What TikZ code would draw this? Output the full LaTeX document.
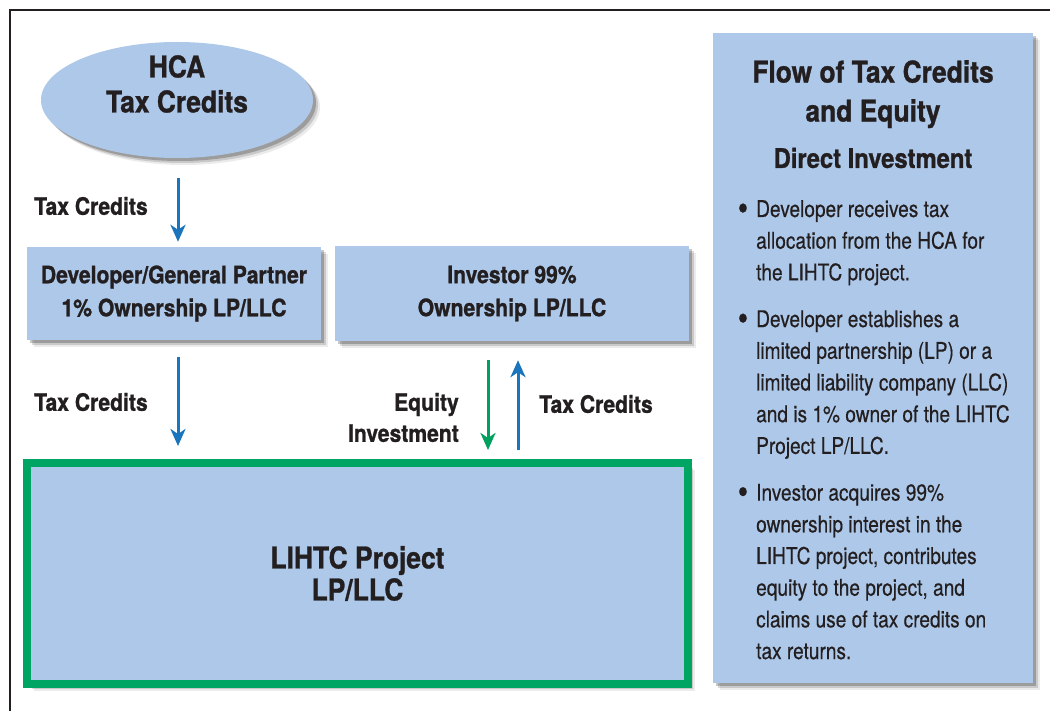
\documentclass[tikz,border=0pt]{standalone}
\usepackage{fontspec}
\setmainfont[FakeStretch=0.88,BoldFeatures={FakeBold=1.0}]{TeX Gyre Heros}
\newfontfamily\bodyfont[FakeStretch=0.83,FakeBold=0.4]{TeX Gyre Heros}
\usetikzlibrary{shadows,arrows.meta,shapes.geometric}
\definecolor{boxblue}{HTML}{AEC8E9}
\definecolor{inkdark}{HTML}{231F20}
\definecolor{arrblue}{HTML}{1B75BC}
\definecolor{arrgreen}{HTML}{00A15F}
\definecolor{framegreen}{HTML}{00A463}
\tikzset{
  softshadow/.style={
    drop shadow={shadow xshift=7pt,shadow yshift=-7pt,fill=black,opacity=0.08},
    drop shadow={shadow xshift=5pt,shadow yshift=-5pt,fill=black,opacity=0.14},
    drop shadow={shadow xshift=3pt,shadow yshift=-3pt,fill=black,opacity=0.22}},
  bluebox/.style={rectangle,fill=boxblue,inner sep=0pt,softshadow,text=inkdark,align=center},
  headtext/.style={text=inkdark,inner sep=0pt,font=\bfseries\fontsize{24}{33}\selectfont},
  bigtext/.style={text=inkdark,inner sep=0pt,font=\bfseries\fontsize{30}{35}\selectfont},
  arr/.style={line width=3pt,-{Stealth[length=17pt,width=15pt,inset=5pt]}},
}
\newcommand{\bul}{\llap{\raisebox{-3.5pt}{\fontsize{36}{36}\selectfont\textbullet}\hspace{8pt}}}
\begin{document}
\begin{tikzpicture}[x=1pt,y=-1pt]
\useasboundingbox (0,0) rectangle (1050,711);
\fill[white] (0,0) rectangle (1050,711);
% frame
\draw[inkdark,line width=2pt] (10,740) -- (10,10) -- (1080,10);

% HCA ellipse
\node[ellipse,fill=boxblue,minimum width=272pt,minimum height=116pt,inner sep=0pt,softshadow] (hca) at (177,100) {};
\node[bigtext,align=center] (hcat) at (177,84) {HCA\\Tax Credits};

% boxes
\node[bluebox,minimum width=294pt,minimum height=93pt,font=\bfseries\fontsize{24}{33}\selectfont] (dev) at (174,293.5) {Developer/General Partner\\1\% Ownership LP/LLC};
\node[bluebox,minimum width=354pt,minimum height=95pt,font=\bfseries\fontsize{24}{33}\selectfont] (inv) at (512,293.5) {Investor 99\%\\Ownership LP/LLC};
\node[bluebox,draw=framegreen,line width=8pt,minimum width=661pt,minimum height=221pt,font=\bfseries\fontsize{30}{32}\selectfont] (lihtc) at (357.5,573.5) {LIHTC Project\\LP/LLC};

% arrows
\draw[arr,arrblue,shorten <=20pt,shorten >=5pt] ([xshift=1pt]hca.south) -- ([xshift=4pt]dev.north);
\draw[arr,arrblue,shorten <=17pt,shorten >=13pt] ([xshift=4pt]dev.south) -- ([xshift=4pt]dev.south |- lihtc.north);
\draw[arr,arrgreen,shorten <=19pt,shorten >=9pt] ([xshift=-24pt]inv.south) -- ([xshift=-24pt]inv.south |- lihtc.north);
\draw[arr,arrblue,shorten <=9pt,shorten >=19pt] ([xshift=6pt]inv.south |- lihtc.north) -- ([xshift=6pt]inv.south);

% labels
\node[headtext,anchor=west] (l1) at (34,206) {Tax Credits};
\node[headtext,anchor=west] (l2) at (34,402) {Tax Credits};
\node[headtext,anchor=east,align=right,font=\bfseries\fontsize{24}{31}\selectfont] (l3) at (459,417.5) {Equity\\Investment};
\node[headtext,anchor=west] (l4) at (539,404) {Tax Credits};

% right panel
\node[bluebox,minimum width=320pt,minimum height=650pt] (panel) at (873,358) {};
\node[text=inkdark,inner sep=0pt,anchor=north,align=center,font=\bfseries\fontsize{30}{39}\selectfont] (ttl) at (873,60) {Flow of Tax Credits\\and Equity};
\node[text=inkdark,inner sep=0pt,font=\bfseries\fontsize{27}{30}\selectfont] (sub) at (873,158) {Direct Investment};
\node[text=inkdark,inner sep=0pt,anchor=north west,align=left,font=\bodyfont\fontsize{23}{31.7}\selectfont] (body) at (756,200) {%
\bul Developer receives tax\\
allocation from the HCA for\\
the LIHTC project.\\[15pt]
\bul Developer establishes a\\
limited partnership (LP) or a\\
limited liability company (LLC)\\
and is 1\% owner of the LIHTC\\
Project LP/LLC.\\[15pt]
\bul Investor acquires 99\%\\
ownership interest in the\\
LIHTC project, contributes\\
equity to the project, and\\
claims use of tax credits on\\
tax returns.};
\end{tikzpicture}
\end{document}
